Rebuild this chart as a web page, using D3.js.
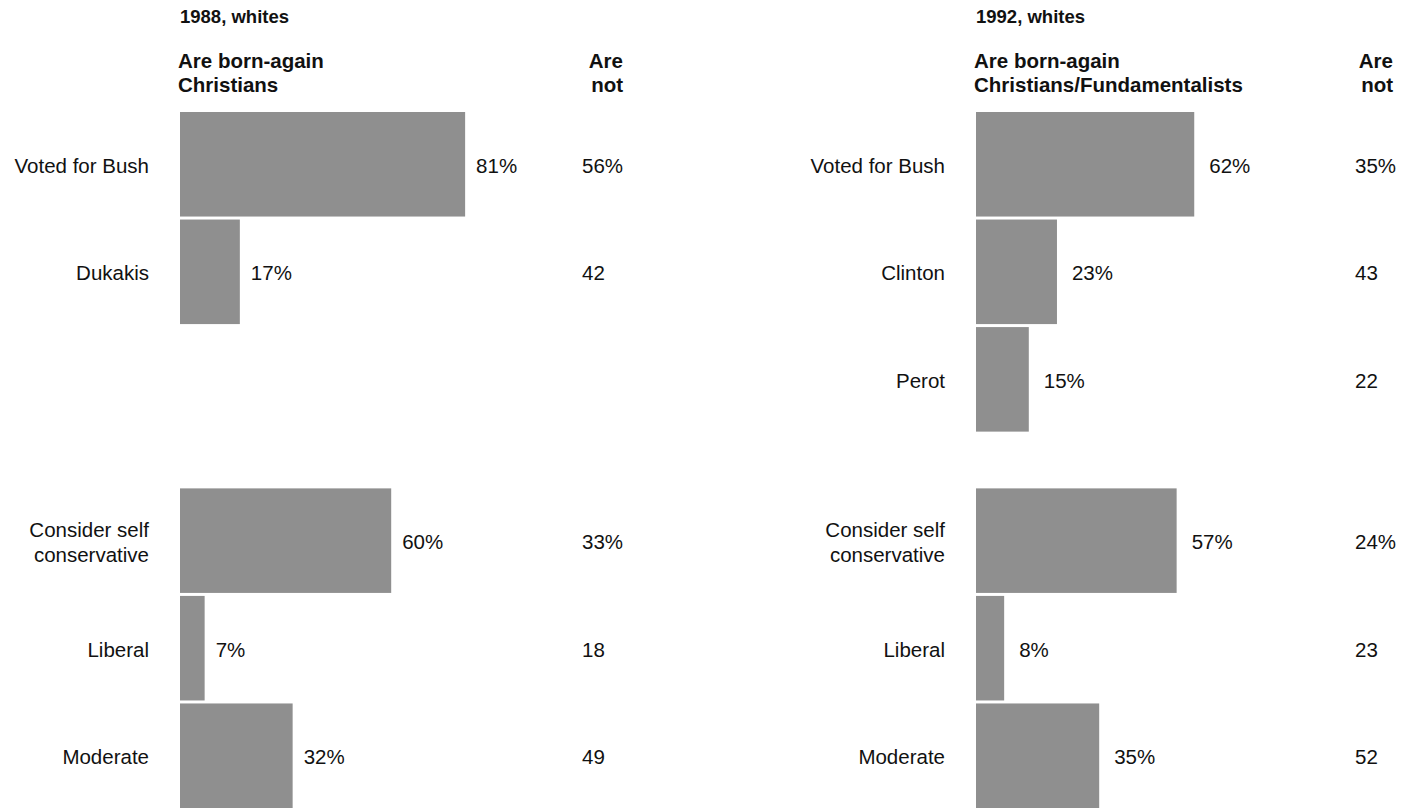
<!DOCTYPE html>
<html><head><meta charset="utf-8">
<script src="https://cdn.jsdelivr.net/npm/d3@7"></script>
<style>
html,body{margin:0;padding:0;background:#fff;}
svg{display:block;font-family:"Liberation Sans",Arial,Helvetica,sans-serif;}
</style></head>
<body>
<svg id="chart" width="1410" height="811"></svg>
<script>
// ---- data ----
const panelTitles = ["1988, whites", "1992, whites"];
const panelHeaders = [["Are born-again", "Christians"], ["Are born-again", "Christians/Fundamentalists"]];
const notHeader = ["Are", "not"];

const categories1988 = ["Voted for Bush", "Dukakis", "Consider self|conservative", "Liberal", "Moderate"];
const groups1988 = ["vote", "vote", "ideology", "ideology", "ideology"];
const bornAgain1988 = [81, 17, 60, 7, 32];
const areNot1988 = [56, 42, 33, 18, 49];

const categories1992 = ["Voted for Bush", "Clinton", "Perot", "Consider self|conservative", "Liberal", "Moderate"];
const groups1992 = ["vote", "vote", "vote", "ideology", "ideology", "ideology"];
const bornAgain1992 = [62, 23, 15, 57, 8, 35];
const areNot1992 = [35, 43, 22, 24, 23, 52];

// ---- layout ----
const svg = d3.select("#chart");
const barColor = "#8f8f8f";
const textColor = "#111";

const x = d3.scaleLinear().domain([0, 100]).range([0, 352]);
// row slot scale: vote rows start at slot 0, ideology rows at slot 3.5
const y = d3.scaleLinear().domain([0, 6.5]).range([112, 811]);
const rowH = y(1) - y(0) - 3;

const panels = [
  {title: panelTitles[0], header: panelHeaders[0], cats: categories1988, groups: groups1988, a: bornAgain1988, b: areNot1988,
   x0: 180, labelX: 149, notX: 582, notHeadX: 623, valOff: 11},
  {title: panelTitles[1], header: panelHeaders[1], cats: categories1992, groups: groups1992, a: bornAgain1992, b: areNot1992,
   x0: 976, labelX: 945, notX: 1355, notHeadX: 1393, valOff: 15}
];

panels.forEach(p => {
  const g = svg.append("g");
  g.append("text").attr("x", p.x0).attr("y", 23).attr("font-size", 18.5).attr("font-weight", "bold")
    .attr("fill", textColor).text(p.title);
  p.header.forEach((h, i) => {
    g.append("text").attr("x", p.x0 - 2).attr("y", 68 + i * 24).attr("font-size", 20.5).attr("font-weight", "bold")
      .attr("fill", textColor).text(h);
  });
  notHeader.forEach((h, i) => {
    g.append("text").attr("x", p.notHeadX).attr("y", 68 + i * 24).attr("font-size", 20.5).attr("font-weight", "bold")
      .attr("text-anchor", "end").attr("fill", textColor).text(h);
  });

  const rows = p.cats.map((c, i) => {
    const grp = p.groups[i];
    const idxInGroup = p.groups.slice(0, i).filter(gg => gg === grp).length;
    const slot = (grp === "vote" ? 0 : 3.5) + idxInGroup;
    return {cat: c, a: p.a[i], b: p.b[i], slot, first: idxInGroup === 0};
  });

  g.selectAll("rect.bar").data(rows).join("rect").attr("class", "bar")
    .attr("x", p.x0).attr("y", d => y(d.slot))
    .attr("width", d => x(d.a)).attr("height", rowH).attr("fill", barColor);

  rows.forEach(d => {
    const cy = y(d.slot) + rowH / 2;
    const base = cy + 8.5;
    const lines = d.cat.split("|");
    lines.forEach((ln, k) => {
      g.append("text").attr("x", p.labelX).attr("y", base + (k - (lines.length - 1) / 2) * 25)
        .attr("font-size", 20.5).attr("text-anchor", "end").attr("fill", textColor).text(ln);
    });
    g.append("text").attr("x", p.x0 + x(d.a) + p.valOff).attr("y", base)
      .attr("font-size", 20.5).attr("fill", textColor).text(d.a + "%");
    g.append("text").attr("x", p.notX).attr("y", base)
      .attr("font-size", 20.5).attr("fill", textColor).text(d.b + (d.first ? "%" : ""));
  });
});
</script>
</body></html>
